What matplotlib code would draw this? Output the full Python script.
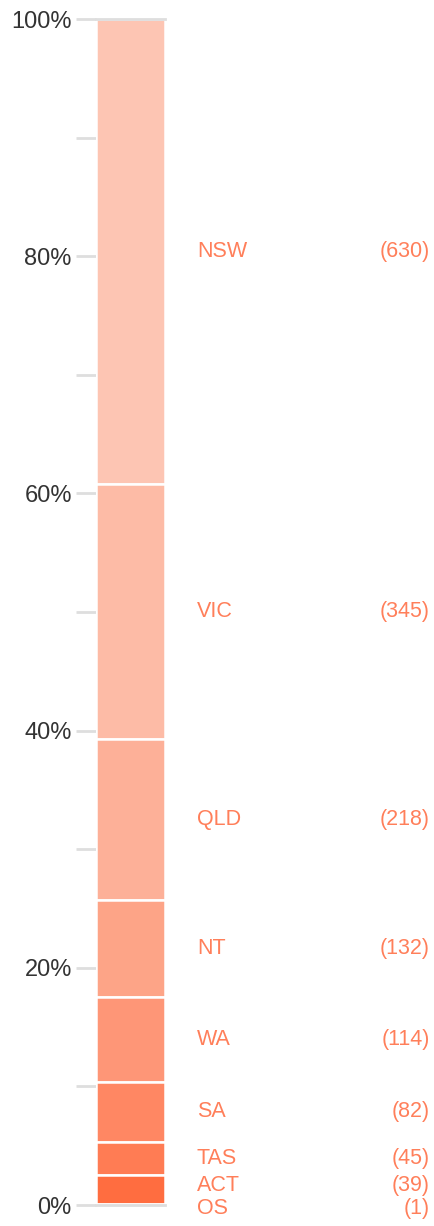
import matplotlib
matplotlib.use('Agg')
import matplotlib.pyplot as plt
import matplotlib.transforms as mtransforms
import numpy as np

states=['NSW','VIC','QLD','NT','WA','SA','TAS','ACT','OS']
counts=[630,345,218,132,114,82,45,39,1]
colors=['#fdc5b3','#fdbba6','#fdb098','#fda487','#fe9677','#ff8763','#ff7c54','#ff6d40','#ff6a3c']
major_ticks=[0,20,40,60,80,100]
minor_ticks=[10,30,50,70,90]
tick_labels=['0%','20%','40%','60%','80%','100%']

plt.rcParams['font.family']=['Liberation Sans','DejaVu Sans']
W,H=435,1226
fig=plt.figure(figsize=(W/100,H/100),dpi=100)
ax=fig.add_axes([96/W,21/H,69/W,1186/H])

total=sum(counts)
pct=np.array(counts)/total*100
# stack from the bottom: OS first, NSW on top
bottoms=np.concatenate([[0],np.cumsum(pct[::-1])[:-1]])[::-1]
for s,p,b,c in zip(states,pct,bottoms,colors):
	ax.bar(0,p,bottom=b,width=1,color=c,edgecolor='white',linewidth=1.8,zorder=2)

ax.set_xlim(-0.5,0.5)
ax.set_ylim(0,100)
for sp in ax.spines.values():
	sp.set_visible(False)
ax.set_xticks([])
ax.set_yticks(major_ticks)
ax.set_yticklabels(tick_labels)
ax.set_yticks(minor_ticks,minor=True)
ax.tick_params(axis='y',which='both',length=14.4,width=2,color='#dedede',pad=3,labelsize=17,labelcolor='#333333')
ax.axhline(100,color='#dedede',linewidth=2,zorder=3,clip_on=False)
ax.axhline(0,color='#dedede',linewidth=2,zorder=3,clip_on=False)

# label positions: segment midpoints, pushed apart where they crowd
mids=bottoms+pct/2
pos=mids.copy()
gap=1.9
for _ in range(50):
	order=np.argsort(pos)
	for a,b in zip(order[:-1],order[1:]):
		d=pos[b]-pos[a]
		if d<gap:
			pos[a]-=(gap-d)/2
			pos[b]+=(gap-d)/2

trans=mtransforms.blended_transform_factory(ax.transAxes,ax.transData)
lc='#ff7f5a'
for s,n,y in zip(states,counts,pos):
	ax.text(101/69,y,s,transform=trans,ha='left',va='center',fontsize=15.5,color=lc,clip_on=False)
	ax.text(334/69,y,'({})'.format(n),transform=trans,ha='right',va='center',fontsize=15.5,color=lc,clip_on=False)

plt.savefig('out.png',dpi=100)
